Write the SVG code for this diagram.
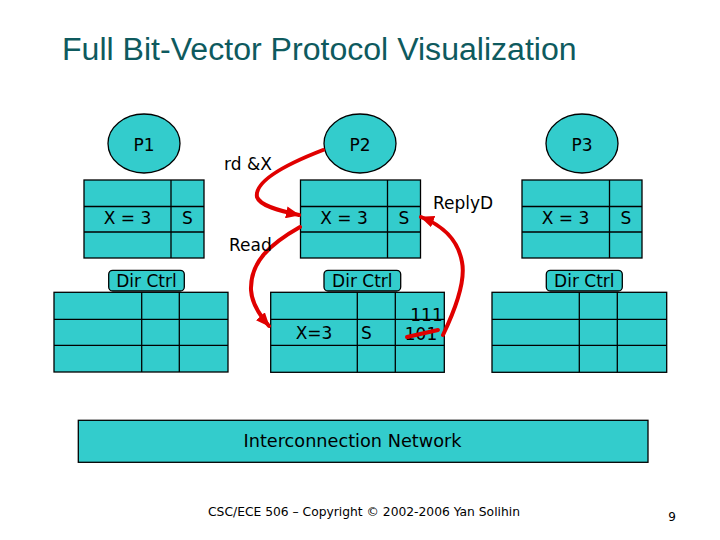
<svg xmlns="http://www.w3.org/2000/svg" width="720" height="540" viewBox="0 0 720 540">
<defs>
<style>
.t{font-family:"DejaVu Sans",Verdana,sans-serif;font-size:17px;fill:#000}
.c{fill:#33CCCC;stroke:#000;stroke-width:1.3}
.ln{stroke:#000;stroke-width:1.3;fill:none}
.arr{fill:none;stroke:#E00000;stroke-width:4;stroke-linecap:round}
</style>
<marker id="ah" markerUnits="userSpaceOnUse" markerWidth="14" markerHeight="12" refX="13" refY="6" orient="auto">
<path d="M0,0 L14,6 L0,12 z" fill="#E00000"/>
</marker>
</defs>
<rect width="720" height="540" fill="#fff"/>
<text x="62" y="60" font-family="'Liberation Sans',Arial,sans-serif" font-size="32.1" fill="#0E5A5E">Full Bit-Vector Protocol Visualization</text>

<g id="p1">
<ellipse class="c" cx="144" cy="143.5" rx="36" ry="29.5"/>
<text class="t" x="144" y="151" text-anchor="middle">P1</text>
</g>
<g id="p2">
<ellipse class="c" cx="360" cy="143.5" rx="36" ry="29.5"/>
<text class="t" x="360" y="151" text-anchor="middle">P2</text>
</g>
<g id="p3">
<ellipse class="c" cx="582" cy="143.5" rx="36" ry="29.5"/>
<text class="t" x="582" y="151" text-anchor="middle">P3</text>
</g>

<g id="cache1">
<rect class="c" x="84" y="180" width="120" height="78"/>
<path class="ln" d="M84,206.5H204M84,232H204M171,180V258"/>
<text class="t" x="127.5" y="224" text-anchor="middle">X = 3</text>
<text class="t" x="187.5" y="224" text-anchor="middle">S</text>
</g>
<g id="cache2">
<rect class="c" x="300.5" y="180" width="120" height="78"/>
<path class="ln" d="M300.5,206.5H420.5M300.5,232H420.5M387.5,180V258"/>
<text class="t" x="344" y="224" text-anchor="middle">X = 3</text>
<text class="t" x="404" y="224" text-anchor="middle">S</text>
</g>
<g id="cache3">
<rect class="c" x="522" y="180" width="120" height="78"/>
<path class="ln" d="M522,206.5H642M522,232H642M609.5,180V258"/>
<text class="t" x="565.5" y="224" text-anchor="middle">X = 3</text>
<text class="t" x="626" y="224" text-anchor="middle">S</text>
</g>

<g id="dir1">
<rect class="c" x="54" y="292.3" width="174" height="79.7"/>
<path class="ln" d="M54,319.3H228M54,345.3H228M141.7,292.3V372M179.3,292.3V372"/>
<rect class="c" x="108.7" y="270.3" width="75.6" height="20.7" rx="4"/>
<text class="t" x="146.5" y="287" text-anchor="middle">Dir Ctrl</text>
</g>
<g id="dir2">
<rect class="c" x="270.7" y="292.3" width="173.6" height="80"/>
<path class="ln" d="M270.7,319.3H444.3M270.7,345.3H444.3M357.3,292.3V372.3M395.3,292.3V372.3"/>
<rect class="c" x="324" y="270.3" width="76.7" height="20.7" rx="4"/>
<text class="t" x="362.3" y="287" text-anchor="middle">Dir Ctrl</text>
<text class="t" x="314" y="339" text-anchor="middle">X=3</text>
<text class="t" x="366.5" y="339" text-anchor="middle">S</text>
<text class="t" x="426.5" y="321" text-anchor="middle">111</text>
<text class="t" x="421" y="340" text-anchor="middle">101</text>
</g>
<g id="dir3">
<rect class="c" x="492" y="292.3" width="174.7" height="80"/>
<path class="ln" d="M492,319.3H666.7M492,345.3H666.7M579.3,292.3V372.3M617.3,292.3V372.3"/>
<rect class="c" x="546.3" y="270.3" width="76" height="20.7" rx="4"/>
<text class="t" x="584.3" y="287" text-anchor="middle">Dir Ctrl</text>
</g>

<g id="network">
<rect class="c" x="78.3" y="420.3" width="569.7" height="42"/>
<text class="t" x="352.5" y="447" text-anchor="middle" style="font-size:17.7px">Interconnection Network</text>
</g>

<g id="connectors">
<path class="arr" d="M323,150 C292,162 254,180 257,197 C260,206 280,211 299,215" marker-end="url(#ah)"/>
<path class="arr" d="M300,227 C270,244 250,262 251,290 C252,305 261,317 269,326" marker-end="url(#ah)"/>
<path class="arr" d="M443,335 C455,310 466,282 462,262 C458,240 442,225 421,217" marker-end="url(#ah)"/>
<path class="arr" stroke-width="3" d="M407,337 L438,330"/>
<text class="t" x="224" y="170">rd &amp;X</text>
<text class="t" x="229" y="251">Read</text>
<text class="t" x="433" y="209">ReplyD</text>
</g>

<text x="364" y="516" text-anchor="middle" font-family="'DejaVu Sans',Verdana,sans-serif" font-size="12.3" fill="#000">CSC/ECE 506 – Copyright © 2002-2006 Yan Solihin</text>
<text x="672" y="521" text-anchor="middle" font-family="'DejaVu Sans',Verdana,sans-serif" font-size="12" fill="#000">9</text>
</svg>
